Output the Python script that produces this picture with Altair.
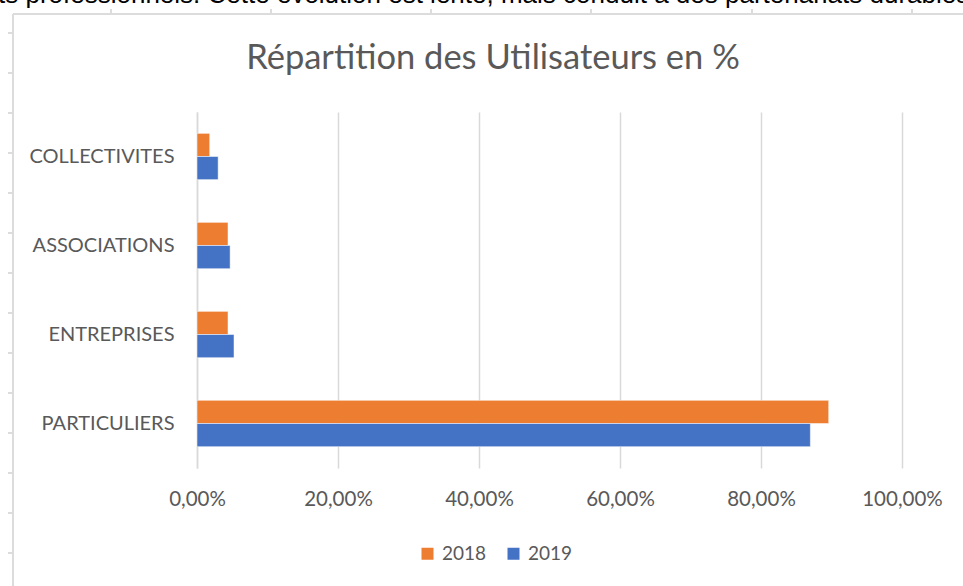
import altair as alt
import pandas as pd

# ---- data ----
categories = ["PARTICULIERS", "ENTREPRISES", "ASSOCIATIONS", "COLLECTIVITES"]
v2018 = [0.896, 0.044, 0.044, 0.018]
v2019 = [0.870, 0.0525, 0.047, 0.030]
years = ["2018", "2019"]
x_ticks = [0.0, 0.2, 0.4, 0.6, 0.8, 1.0]
title_text = "Répartition des Utilisateurs en %"
top_text = "ts professionnels. Cette évolution est lente, mais conduit à des partenariats durables."

rows = []
for c, a, b in zip(categories, v2018, v2019):
    rows.append({"cat": c, "year": years[0], "value": a})
    rows.append({"cat": c, "year": years[1], "value": b})
df = pd.DataFrame(rows)

# ---- layout (pixels) ----
PAD_L, PAD_T = 197, 112
W, H = 705, 356
FONT = "Lato"
GRAY = "#595959"
FRAME = "#DCDCDC"

order = ["COLLECTIVITES", "ASSOCIATIONS", "ENTREPRISES", "PARTICULIERS"]

bars = alt.Chart(df).mark_bar(stroke="white", strokeWidth=0.5).encode(
    x=alt.X("value:Q", scale=alt.Scale(domain=[0, 1]),
            axis=alt.Axis(values=x_ticks, title=None, ticks=False, domain=False,
                          grid=True, gridColor="#D9D9D9", gridWidth=1.5,
                          labelFlush=False, labelOverlap=False,
                          labelExpr="replace(format(datum.value, '.2%'), '.', ',')",
                          labelFont=FONT, labelFontSize=20.5, labelColor=GRAY,
                          labelPadding=21)),
    y=alt.Y("cat:N", sort=order,
            scale=alt.Scale(paddingInner=0.48, paddingOuter=0.24),
            axis=alt.Axis(title=None, ticks=False, domain=True, domainColor="#D9D9D9",
                          domainWidth=1.5, labelFont=FONT, labelFontSize=20,
                          labelColor=GRAY, labelPadding=23)),
    yOffset=alt.YOffset("year:N", sort=years),
    color=alt.Color("year:N", sort=years,
                    scale=alt.Scale(domain=years, range=["#ED7D31", "#4472C4"]),
                    legend=alt.Legend(title=None, orient="none", direction="horizontal",
                                      legendX=221, legendY=432, symbolType="square",
                                      symbolSize=144, symbolStrokeWidth=0,
                                      labelFont=FONT, labelFontSize=19, labelColor=GRAY,
                                      labelOffset=5, columnPadding=17, padding=0)),
)

one = pd.DataFrame({"a": [0]})

title = alt.Chart(one).mark_text(font=FONT, fontSize=34.5, color=GRAY, align="center",
                                 baseline="alphabetic").encode(
    x=alt.value(493 - PAD_L), y=alt.value(69 - PAD_T), text=alt.value(title_text))

toptext = alt.Chart(one).mark_text(font="Liberation Sans", fontSize=26, color="#000000",
                                   align="left", baseline="alphabetic").encode(
    x=alt.value(-2 - PAD_L), y=alt.value(3 - PAD_T), text=alt.value(top_text))

frame_left = alt.Chart(one).mark_rule(color=FRAME, strokeWidth=2).encode(
    x=alt.value(13 - PAD_L), y=alt.value(14 - PAD_T), y2=alt.value(600 - PAD_T))
frame_top = alt.Chart(one).mark_rule(color=FRAME, strokeWidth=2).encode(
    x=alt.value(13 - PAD_L), x2=alt.value(970 - PAD_L), y=alt.value(14 - PAD_T))

# small handle ticks on the frame (pixel positions of the decoration)
top_tick_px = [111, 271, 431, 591, 752, 912]
left_tick_px = [33 + 40 * k for k in range(14)]
top_ticks_df = pd.DataFrame({"px": [p - PAD_L for p in top_tick_px]})
left_ticks_df = pd.DataFrame({"py": [p - PAD_T for p in left_tick_px]})

top_ticks = alt.Chart(top_ticks_df).mark_rule(color=FRAME, strokeWidth=2).encode(
    x=alt.X("px:Q", scale=None, axis=None),
    y=alt.value(9 - PAD_T), y2=alt.value(14 - PAD_T))
left_ticks = alt.Chart(left_ticks_df).mark_rule(color=FRAME, strokeWidth=2).encode(
    y=alt.Y("py:Q", scale=None, axis=None),
    x=alt.value(8 - PAD_L), x2=alt.value(13 - PAD_L))

chart = alt.layer(frame_left, frame_top, top_ticks, left_ticks, bars, title, toptext).properties(
    width=W, height=H,
    background="white",
    autosize=alt.AutoSizeParams(type="none"),
    padding={"left": PAD_L, "top": PAD_T, "right": 963 - PAD_L - W, "bottom": 586 - PAD_T - H},
).configure_view(strokeWidth=0, stroke="transparent")

chart.save("out.html", embed_options={"renderer": "svg", "actions": False})
